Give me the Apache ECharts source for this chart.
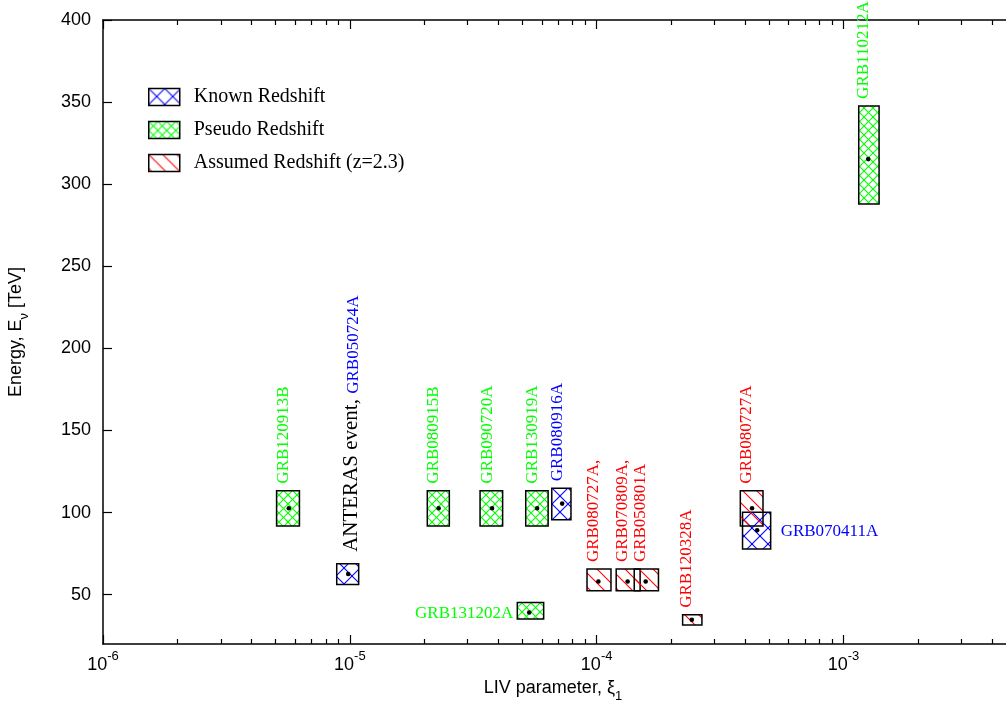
<!DOCTYPE html>
<html><head><meta charset="utf-8">
<script src="https://cdn.jsdelivr.net/npm/echarts@6/dist/echarts.min.js"></script>
<style>html,body{margin:0;padding:0;background:#fff}#c{width:1006px;height:711px}</style>
</head><body><div id="c"></div>
<script>
// ---------------- data ----------------
const labels   = ['GRB120913B','ANTERAS event, |GRB050724A','GRB080915B','GRB090720A','GRB130919A','GRB080916A','GRB131202A','GRB080727A,','GRB070809A,','GRB050801A','GRB120328A','GRB080727A','GRB070411A','GRB110212A'];
const kinds    = ['pseudo','known','pseudo','pseudo','pseudo','known','pseudo','assumed','assumed','assumed','assumed','assumed','known','pseudo'];
const xiCenter = [5.66e-6, 9.85e-6, 2.29e-5, 3.77e-5, 5.74e-5, 7.25e-5, 5.33e-5, 1.016e-4, 1.335e-4, 1.58e-4, 2.43e-4, 4.26e-4, 4.47e-4, 1.26e-3];
const xiLow    = [5.05e-6, 8.85e-6, 2.06e-5, 3.37e-5, 5.16e-5, 6.58e-5, 4.77e-5, 9.14e-5, 1.20e-4, 1.42e-4, 2.23e-4, 3.82e-4, 3.90e-4, 1.153e-3];
const xiHigh   = [6.25e-6, 1.086e-5, 2.53e-5, 4.16e-5, 6.36e-5, 7.87e-5, 6.10e-5, 1.143e-4, 1.50e-4, 1.78e-4, 2.67e-4, 4.72e-4, 5.07e-4, 1.394e-3];
const eCenter  = [102.7, 62.6, 102.7, 102.7, 102.7, 105.5, 39.2, 58.1, 58.1, 58.1, 34.8, 102.7, 89.3, 315.3];
const eLow     = [91.9, 56.3, 91.9, 91.9, 91.9, 95.6, 35.2, 52.4, 52.4, 52.4, 31.6, 91.9, 77.9, 288.0];
const eHigh    = [113.4, 68.8, 113.4, 113.4, 113.4, 114.8, 45.3, 65.6, 65.6, 65.6, 37.8, 113.4, 100.2, 347.7];
const seriesNames = {known:'Known Redshift', pseudo:'Pseudo Redshift', assumed:'Assumed Redshift (z=2.3)'};
const yTicks = [50,100,150,200,250,300,350,400];
const xMin = 1e-6, xMax = 5e-3;

// ---------------- styles ----------------
const colors = {known:'#0000ff', pseudo:'#00ff00', assumed:'#ff0000'};
const labelSide = {'GRB131202A':'left', 'GRB070411A':'right'};
const SANS = '"Liberation Sans", Arial, sans-serif';
const SERIF = '"Liberation Serif", "Times New Roman", serif';

function makePattern(kind){
  const P = kind==='known'?16:(kind==='pseudo'?9:14);
  const cv = document.createElement('canvas');
  cv.width = P; cv.height = P;
  const g = cv.getContext('2d');
  g.strokeStyle = colors[kind]; g.lineWidth = 1.1;
  const line=(x1,y1,x2,y2)=>{g.beginPath();g.moveTo(x1,y1);g.lineTo(x2,y2);g.stroke();};
  for (const o of [-P,0,P]) {
    line(o-1,-1,o+P+1,P+1);
    if (kind!=='assumed') line(o-1,P+1,o+P+1,-1);
  }
  return {image: cv, repeat:'repeat'};
}
const patterns = {known:makePattern('known'), pseudo:makePattern('pseudo'), assumed:makePattern('assumed')};

const minorTicks = [];
for (let n=-6;n<=-3;n++) for (let k=2;k<=9;k++){ const v=k*Math.pow(10,n); if (v<=xMax*1.0001) minorTicks.push(v); }

function buildData(kind){
  const out=[];
  for (let i=0;i<labels.length;i++) if (kinds[i]===kind)
    out.push([xiCenter[i], xiLow[i], xiHigh[i], eCenter[i], eLow[i], eHigh[i], i]);
  return out;
}

function renderItem(kind){
  return function(params, api){
    const x=api.value(0), xl=api.value(1), xh=api.value(2), y=api.value(3), yl=api.value(4), yh=api.value(5), idx=api.value(6);
    const p0=api.coord([xl,yh]), p1=api.coord([xh,yl]), c=api.coord([x,y]);
    const children=[
      {type:'rect', shape:{x:p0[0], y:p0[1], width:p1[0]-p0[0], height:p1[1]-p0[1]},
       style:{fill:patterns[kind], stroke:'#000', lineWidth:1.5}},
      {type:'circle', shape:{cx:c[0], cy:c[1], r:2.3}, style:{fill:'#000'}}
    ];
    const lab = labels[idx];
    const side = labelSide[lab] || 'top';
    if (lab.indexOf('|')>=0){
      const parts = lab.split('|');
      children.push({type:'text', x:c[0]+3, y:p0[1]-12, rotation:Math.PI/2,
        style:{text:'{a|'+parts[0]+'}{b|'+parts[1]+'}', align:'left', verticalAlign:'middle',
          rich:{a:{fontSize:21, fontFamily:SERIF, fill:'#000', verticalAlign:'bottom'},
                b:{fontSize:17, fontFamily:SERIF, fill:colors[kind], verticalAlign:'bottom'}}}});
    } else if (side==='top'){
      children.push({type:'text', x:c[0]-5, y:p0[1]-7, rotation:Math.PI/2,
        style:{text:lab, align:'left', verticalAlign:'middle', fill:colors[kind], font:'17px '+SERIF}});
    } else if (side==='left'){
      children.push({type:'text', x:p0[0]-4, y:c[1]+1, style:{text:lab, align:'right', verticalAlign:'middle', fill:colors[kind], font:'17px '+SERIF}});
    } else {
      children.push({type:'text', x:p1[0]+10, y:c[1]+1, style:{text:lab, align:'left', verticalAlign:'middle', fill:colors[kind], font:'17px '+SERIF}});
    }
    return {type:'group', children};
  };
}

const kindOrder = ['known','pseudo','assumed'];
const series = kindOrder.map(k=>({
  type:'custom', name:seriesNames[k], xAxisIndex:0, yAxisIndex:0,
  renderItem: renderItem(k), clip:false,
  itemStyle:{color:patterns[k], borderColor:'#000', borderWidth:1.5},
  encode:{x:[0,1,2], y:[3,4,5]},
  data: buildData(k)
}));

const axLine = {show:true, lineStyle:{color:'#000', width:1.5}};
const logBase = {type:'log', logBase:10, min:xMin, max:xMax, splitLine:{show:false}};
const option = {
  animation:false,
  backgroundColor:'#fff',
  grid:{left:103, right:-10, top:20, bottom:67, containLabel:false, outerBoundsMode:'none'},
  legend:{
    orient:'vertical', left:148, top:87, padding:0, itemWidth:31, itemHeight:17, itemGap:13, icon:'rect',
    selectedMode:false,
    textStyle:{fontFamily:SERIF, fontSize:20, color:'#000', padding:[0,0,0,9]},
    data: kindOrder.map(k=>({name:seriesNames[k], itemStyle:{color:patterns[k], borderColor:'#000', borderWidth:1.5}}))
  },
  xAxis:[
    Object.assign({}, logBase, {position:'bottom', axisLine:axLine,
      axisTick:{show:true, inside:true, length:9, lineStyle:{color:'#000', width:1.2}},
      axisLabel:{show:true, showMaxLabel:false, margin:6,
        formatter:v=>'{a|10}{b|'+Math.round(Math.log10(v))+'}',
        rich:{a:{fontSize:18, fontFamily:SANS, color:'#000', verticalAlign:'bottom', lineHeight:24},
              b:{fontSize:13, fontFamily:SANS, color:'#000', verticalAlign:'top', lineHeight:14}}},
      name:'LIV parameter, ξ{s|1}', nameLocation:'middle', nameGap:33,
      nameTextStyle:{fontSize:18, fontFamily:SANS, color:'#000', padding:[0,13,0,0],
        rich:{s:{fontSize:13, fontFamily:SANS, color:'#000', verticalAlign:'bottom', padding:[0,0,-6,0]}}}}),
    Object.assign({}, logBase, {position:'top', axisLine:axLine,
      axisTick:{show:true, inside:true, length:9, lineStyle:{color:'#000', width:1.2}}, axisLabel:{show:false}}),
    Object.assign({}, logBase, {position:'bottom', axisLine:{show:false},
      axisTick:{show:true, inside:true, length:5, customValues:minorTicks, lineStyle:{color:'#000', width:1.2}}, axisLabel:{show:false}}),
    Object.assign({}, logBase, {position:'top', axisLine:{show:false},
      axisTick:{show:true, inside:true, length:5, customValues:minorTicks, lineStyle:{color:'#000', width:1.2}}, axisLabel:{show:false}})
  ],
  yAxis:[
    {type:'value', min:20, max:400, position:'left', axisLine:axLine, splitLine:{show:false},
     axisTick:{show:true, inside:true, length:9, customValues:yTicks, lineStyle:{color:'#000', width:1.2}},
     axisLabel:{show:true, customValues:yTicks, fontSize:18, fontFamily:SANS, color:'#000', margin:12},
     name:'Energy, E{s|ν} [TeV]', nameLocation:'middle', nameGap:78,
     nameTextStyle:{fontSize:18, fontFamily:SANS, color:'#000',
       rich:{s:{fontSize:13, fontFamily:SANS, color:'#000', verticalAlign:'bottom', padding:[0,0,-6,0]}}}},
    {type:'value', min:20, max:400, position:'right', axisLine:axLine, splitLine:{show:false},
     axisTick:{show:true, inside:true, length:9, customValues:yTicks, lineStyle:{color:'#000', width:1.2}},
     axisLabel:{show:false}}
  ],
  series
};
const chart = echarts.init(document.getElementById('c'), null, {renderer:'canvas'});
chart.setOption(option);
</script></body></html>
